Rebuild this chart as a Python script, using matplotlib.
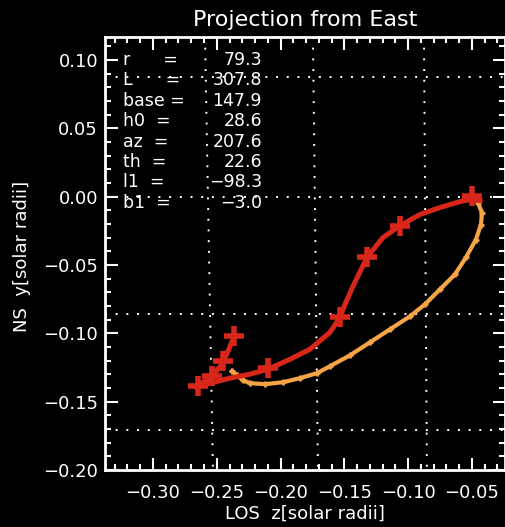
import matplotlib.pyplot as plt
from matplotlib.ticker import MultipleLocator

# red loop (line)
red_x = [-0.0437, -0.0516, -0.0594, -0.0751, -0.0908, -0.1064, -0.1197, -0.1323,
         -0.1433, -0.1495, -0.1534, -0.1613, -0.1770, -0.1926, -0.2099, -0.2240,
         -0.2397, -0.2553, -0.2671, -0.2632, -0.2538, -0.2459, -0.2412, -0.2373, -0.2357]
red_y = [-0.0029, -0.0022, -0.0036, -0.0080, -0.0131, -0.0212, -0.0299, -0.0445,
         -0.0657, -0.0788, -0.0883, -0.0993, -0.1117, -0.1190, -0.1263, -0.1299,
         -0.1328, -0.1365, -0.1394, -0.1372, -0.1314, -0.1226, -0.1131, -0.1044, -0.1015]

# red crosses
cross_x = [-0.2647, -0.2538, -0.2451, -0.2365, -0.2099, -0.1534, -0.1323, -0.1064, -0.0500]
cross_y = [-0.1387, -0.1314, -0.1204, -0.1022, -0.1256, -0.0883, -0.0445, -0.0212, 0.0007]

# orange curve
orange_x = [-0.0453, -0.0422, -0.0429, -0.0469, -0.0547, -0.0633, -0.0751, -0.0868,
            -0.0986, -0.1143, -0.1299, -0.1456, -0.1613, -0.1715, -0.1848, -0.1981,
            -0.2122, -0.2240, -0.2295, -0.2342, -0.2381]
orange_y = [-0.0044, -0.0117, -0.0204, -0.0314, -0.0445, -0.0569, -0.0679, -0.0788,
            -0.0876, -0.0971, -0.1066, -0.1161, -0.1241, -0.1292, -0.1328, -0.1358,
            -0.1372, -0.1365, -0.1343, -0.1307, -0.1277]

# projected grid lines
grid_x_top = [-0.2592, -0.1746, -0.0876]
grid_x_bottom = [-0.2530, -0.1707, -0.0853]
grid_y = [0.0876, 0.0, -0.0861, -0.1708]

# parameter box
param_names = ['r      =', 'L      =', 'base =', 'h0  =', 'az  =', 'th  =', 'l1  =', 'b1  =']
param_values = ['79.3', '307.8', '147.9', '28.6', '207.6', '22.6', '\u221298.3', '\u22123.0']

xlim = (-0.3376, -0.0241)
ylim = (-0.200, 0.1168)

plt.rcParams['font.family'] = 'DejaVu Sans'
fig = plt.figure(figsize=(5.06, 5.27), dpi=100, facecolor='black')
ax = fig.add_axes([0.2075, 0.1082, 0.7905, 0.8216], facecolor='black')

dots = (0, (1, 4.5))
for xt, xb in zip(grid_x_top, grid_x_bottom):
    ax.plot([xt, xb], [ylim[1], ylim[0]], color='white', lw=1.4, linestyle=dots, zorder=1)
for gy in grid_y:
    ax.axhline(gy, color='white', lw=1.4, linestyle=dots, zorder=1)

ax.plot(orange_x, orange_y, color='#f6a445', lw=3.0, marker='+', markersize=5,
        markeredgewidth=2, zorder=3)
ax.plot(red_x, red_y, color='#d8261a', lw=3.6, zorder=4)
ax.plot(cross_x, cross_y, linestyle='none', marker='+', color='#d8261a',
        markersize=14, markeredgewidth=4, zorder=5)

ax.set_xlim(*xlim)
ax.set_ylim(*ylim)
ax.xaxis.set_major_locator(MultipleLocator(0.05))
ax.xaxis.set_minor_locator(MultipleLocator(0.01))
ax.yaxis.set_major_locator(MultipleLocator(0.05))
ax.yaxis.set_minor_locator(MultipleLocator(0.01))
ax.xaxis.set_major_formatter(lambda v, p: f'{v:.2f}'.replace('-', '\u2212'))
ax.yaxis.set_major_formatter(lambda v, p: f'{v:.2f}'.replace('-', '\u2212'))

ax.tick_params(which='both', direction='in', top=True, right=True, colors='white',
               width=1.5, labelsize=13)
ax.tick_params(which='major', length=9)
ax.tick_params(which='minor', length=4.5)
ax.tick_params(axis='x', pad=10)
ax.tick_params(axis='y', pad=5)
for s in ax.spines.values():
    s.set_color('white')
    s.set_linewidth(2)

for i, (name, val) in enumerate(zip(param_names, param_values)):
    yy = 0.947 - i * 0.0471
    ax.text(0.045, yy, name, transform=ax.transAxes, color='white', fontsize=12.5,
            va='center', ha='left', zorder=6)
    ax.text(0.3925, yy, val, transform=ax.transAxes, color='white', fontsize=12.5,
            va='center', ha='right', zorder=6)

fig.text(0.603, 0.962, 'Projection from East', color='white', fontsize=16,
         ha='center', va='center')
fig.text(0.603, 0.025, 'LOS  z[solar radii]', color='white', fontsize=13,
         ha='center', va='center')
fig.text(0.0435, 0.514, 'NS  y[solar radii]', color='white', fontsize=13,
         ha='center', va='center', rotation=90)

fig.savefig('out.png', dpi=100, facecolor='black')
